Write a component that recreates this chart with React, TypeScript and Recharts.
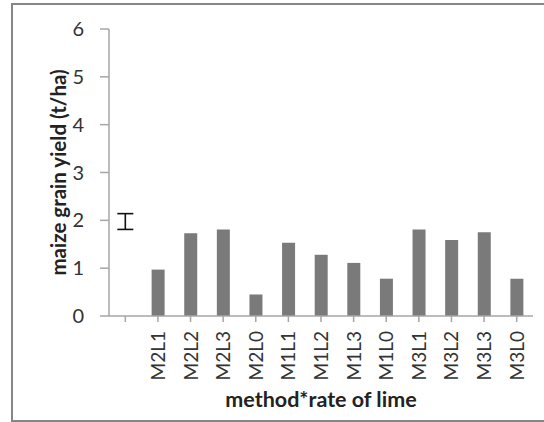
import {
  ComposedChart,
  Bar,
  Scatter,
  ErrorBar,
  XAxis,
  YAxis,
} from "recharts";

const categories = [
  "",
  "M2L1",
  "M2L2",
  "M2L3",
  "M2L0",
  "M1L1",
  "M1L2",
  "M1L3",
  "M1L0",
  "M3L1",
  "M3L2",
  "M3L3",
  "M3L0",
];

// maize grain yield (t/ha) per treatment
const grainYield = [null, 0.97, 1.73, 1.81, 0.45, 1.53, 1.28, 1.11, 0.78, 1.81, 1.59, 1.75, 0.78];

// LSD bar drawn in the empty first slot
const lsdCentre = [1.975, null, null, null, null, null, null, null, null, null, null, null, null];
const lsdHalf = [0.165, null, null, null, null, null, null, null, null, null, null, null, null];

const yTicks = [0, 1, 2, 3, 4, 5, 6];

const FONT = "Lato, 'Open Sans', sans-serif";

const data = categories.map((name, i) => ({
  name,
  yield: grainYield[i],
  lsd: lsdCentre[i],
  lsdErr: lsdHalf[i],
}));

function RotatedTick(props: any) {
  const { x, y, payload } = props;
  return (
    <g transform={`translate(${x + 7},${y + 7}) rotate(-90)`}>
      <text
        x={0}
        y={0}
        textAnchor="end"
        fill="#333"
        fontSize={19}
        fontFamily={FONT}
      >
        {payload.value}
      </text>
    </g>
  );
}

export default function App() {
  return (
    <div
      style={{
        position: "relative",
        width: 544,
        height: 422,
        overflow: "hidden",
        background: "#fff",
      }}
    >
      <style>{`body{margin:0}`}</style>
      <div
        style={{
          position: "absolute",
          left: 11,
          top: 3,
          width: 560,
          height: 415,
          borderLeft: "2px solid #868686",
          borderTop: "2px solid #868686",
          borderBottom: "2px solid #868686",
        }}
      />
      <div style={{ position: "absolute", left: 0, top: 0 }}>
        <ComposedChart
          width={544}
          height={422}
          data={data}
          margin={{ top: 29, right: 11, left: 0, bottom: 0 }}
          barCategoryGap="30%"
        >
          <XAxis
            dataKey="name"
            type="category"
            height={106}
            interval={0}
            tick={<RotatedTick />}
            tickSize={6}
            tickMargin={2}
            axisLine={{ stroke: "#a6a6a6", strokeWidth: 1.5 }}
            tickLine={{ stroke: "#a6a6a6", strokeWidth: 1.5 }}
            label={{
              value: "method*rate of lime",
              position: "insideBottom",
              offset: 15,
              style: {
                fontFamily: FONT,
                fontSize: 21.5,
                fontWeight: 700,
                fill: "#222",
              },
            }}
          />
          <YAxis
            width={109}
            domain={[0, 6]}
            ticks={yTicks}
            interval={0}
            tickSize={9}
            tickMargin={16}
            axisLine={{ stroke: "#a6a6a6", strokeWidth: 1.5 }}
            tickLine={{ stroke: "#a6a6a6", strokeWidth: 1.5 }}
            tick={{ fill: "#333", fontSize: 20, fontFamily: FONT }}
            label={{
              value: "maize grain yield (t/ha)",
              angle: -90,
              position: "center",
              dx: 4,
              style: {
                fontFamily: FONT,
                fontSize: 20.5,
                fontWeight: 700,
                fill: "#222",
                textAnchor: "middle",
              },
            }}
          />
          <Bar
            dataKey="yield"
            fill="#7a7a7a"
            barSize={13}
            isAnimationActive={false}
          />
          <Scatter
            dataKey="lsd"
            shape={() => <g />}
            isAnimationActive={false}
          >
            <ErrorBar
              dataKey="lsdErr"
              direction="y"
              width={8}
              stroke="#111"
              strokeWidth={1.6}
            />
          </Scatter>
        </ComposedChart>
      </div>
    </div>
  );
}
